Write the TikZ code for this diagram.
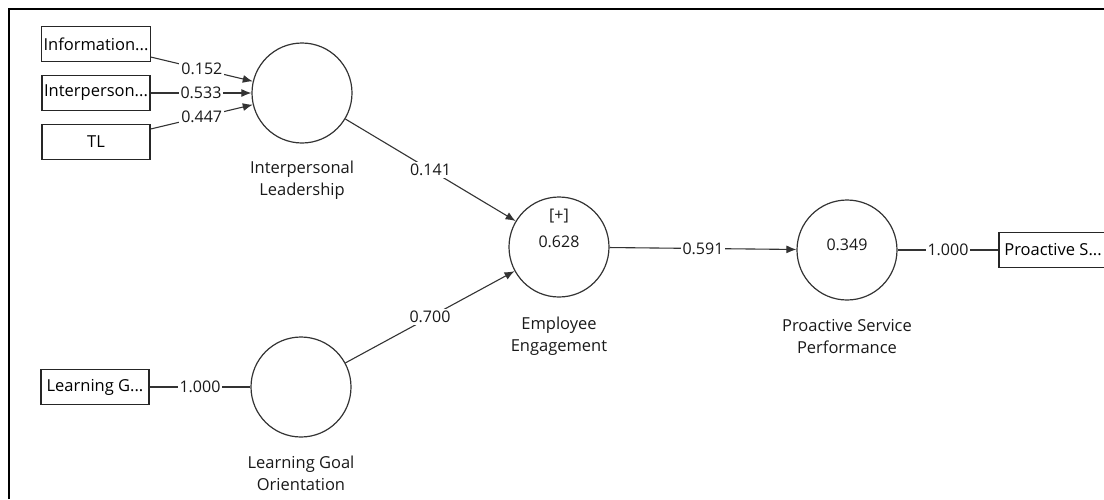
\documentclass[tikz,border=0pt]{standalone}
\usepackage{fontspec}
\setmainfont{Open Sans}
\usetikzlibrary{positioning,arrows.meta}

\tikzset{
  latent/.style={circle, draw=black!80, line width=1.2pt, minimum size=100pt, inner sep=0pt},
  indicator/.style={rectangle, draw=black!85, line width=1.2pt, minimum width=108pt, minimum height=35pt, inner sep=2pt},
  caption/.style={align=center, text=black!90},
  value/.style={align=center, text=black!90, font=\fontsize{16}{22}\selectfont},
  path/.style={draw=black!80, line width=1.1pt, -{Latex[length=10pt,width=8pt]}},
  load/.style={draw=black!80, line width=1.1pt},
  coef/.style={fill=white, inner sep=2pt, text=black!90, font=\fontsize{16}{22}\selectfont},
  frame/.style={line width=2pt}
}

\begin{document}
\begin{tikzpicture}[on grid, font=\fontsize{16.5}{22}\selectfont]
  \useasboundingbox (0,0) rectangle (1104pt,-499pt);
  \draw[frame] (9pt,-499pt) -- (9pt,-9pt) -- (1104pt,-9pt);

  % constructs
  \node[latent] (il) at (302pt,-93pt) {};
  \node[latent, below right=154pt and 257pt of il,
        label={[value,yshift=19pt]center:{[+]\\[5pt]0.628}}] (ee) {};
  \node[latent, below left=140pt and 258pt of ee] (lgo) {};
  \node[latent, below right=3pt and 288pt of ee,
        label={[value,yshift=5pt]center:0.349}] (psp) {};

  \node[caption, below=87pt of il] (ilname) {Interpersonal\\Leadership};
  \node[caption, below=89pt of ee] (eename) {Employee\\Engagement};
  \node[caption, below=86pt of lgo] (lgoname) {Learning Goal\\Orientation};
  \node[caption, below=87pt of psp] (pspname) {Proactive Service\\Performance};

  % indicators
  \node[indicator, above left=49pt and 206pt of il] (info) {Information...};
  \node[indicator, left=206pt of il] (ipers) {Interperson...};
  \node[indicator, below left=49pt and 206pt of il] (tl) {TL};
  \node[indicator, left=206pt of lgo] (lgbox) {Learning G...};
  \node[indicator, right=206pt of psp] (psbox) {Proactive S...};

  % weights and loadings
  \draw[path] (info) -- node[coef] {0.152} (il);
  \draw[path] (ipers) -- node[coef] {0.533} (il);
  \draw[path] (tl) -- node[coef] {0.447} (il);
  \draw[load] (lgbox) -- node[coef] {1.000} (lgo);
  \draw[load] (psp) -- node[coef] {1.000} (psbox);

  % path coefficients
  \draw[path] (il) -- node[coef] {0.141} (ee);
  \draw[path] (lgo) -- node[coef] {0.700} (ee);
  \draw[path] (ee) -- node[coef] {0.591} (psp);
\end{tikzpicture}
\end{document}
